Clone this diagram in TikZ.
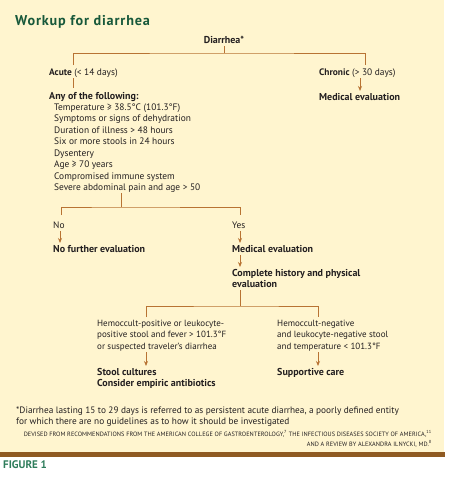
\documentclass[tikz,border=0pt]{standalone}
\usepackage{fontspec}
\setmainfont{PT Sans}
\newfontfamily\titlefont[LetterSpace=6]{PT Sans}
\newfontfamily\srcfont[LetterSpace=1]{PT Sans}
\usetikzlibrary{arrows.meta}
\definecolor{cream}{HTML}{FFF5CF}
\definecolor{titlegreen}{HTML}{17583A}
\definecolor{figgreen}{HTML}{2E7D5B}
\definecolor{linebrown}{HTML}{B87333}
\definecolor{barbrown}{HTML}{8F5A22}
\definecolor{ink}{HTML}{231F20}
\tikzset{
  txt/.style={anchor=base west, inner sep=0pt, text=ink, font=\fontsize{9.4}{11.5}\selectfont, align=left},
  btxt/.style={txt, font=\fontsize{10}{11.5}\selectfont\bfseries},
  conn/.style={draw=linebrown, line width=0.9pt},
  arr/.style={conn, -{Stealth[length=5pt,width=4pt]}},
}
\begin{document}
\begin{tikzpicture}[x=1pt,y=-1pt]
\useasboundingbox (0,0) rectangle (450,477);
\fill[white] (0,0) rectangle (450,477);
\fill[cream] (0,0) rectangle (444,452);
\fill[barbrown] (0,452) rectangle (445,456.5);

% multi-line nodes are placed by the baseline of their last line
\node[anchor=base west, inner sep=0pt, text=titlegreen, font=\fontsize{14.2}{15}\titlefont\bfseries] (title) at (15,25) {Workup for diarrhea};

\node[txt, anchor=base, font=\fontsize{10}{11.5}\selectfont\bfseries] (diar) at (224,43) {Diarrhea*};
\node[txt] (acute) at (49,75) {\textbf{Acute} (< 14 days)};
\node[txt] (chronic) at (319,75) {\textbf{Chronic} (> 30 days)};
\node[btxt] (chmed) at (319,100) {Medical evaluation};
\node[btxt] (anyof) at (49,99) {Any of the following:};
\node[txt] (list) at (54,190.5) {Temperature ≥ 38.5°C (101.3°F)\\Symptoms or signs of dehydration\\Duration of illness > 48 hours\\Six or more stools in 24 hours\\Dysentery\\Age ≥ 70 years\\Compromised immune system\\Severe abdominal pain and age > 50};

\node[txt] (no) at (53,228) {No};
\node[txt] (yes) at (232,228) {Yes};
\node[btxt] (nofurther) at (53,252) {No further evaluation};
\node[btxt] (medeval) at (232,252) {Medical evaluation};
\node[btxt] (complete) at (232,287.5) {Complete history and physical\\evaluation};

\node[txt, font=\fontsize{9}{11.5}\selectfont] (pos) at (97,349) {Hemoccult-positive or leukocyte-\\positive stool and fever > 101.3°F\\or suspected traveler’s diarrhea};
\node[txt, font=\fontsize{9}{11.5}\selectfont] (neg) at (277,349) {Hemoccult-negative\\and leukocyte-negative stool\\and temperature < 101.3°F};
\node[btxt] (stool) at (97,386.5) {Stool cultures\\Consider empiric antibiotics};
\node[btxt] (supp) at (277,375) {Supportive care};

\node[txt, font=\fontsize{9.3}{11.5}\selectfont] (foot) at (16,424.5) {*Diarrhea lasting 15 to 29 days is referred to as persistent acute diarrhea, a poorly defined entity\\for which there are no guidelines as to how it should be investigated};
\node[anchor=base east, inner sep=0pt, text=ink, align=right, font=\fontsize{6.25}{10.5}\srcfont] (src) at (432,446.5) {DEVISED FROM RECOMMENDATIONS FROM THE AMERICAN COLLEGE OF GASTROENTEROLOGY,\textsuperscript{7} THE INFECTIOUS DISEASES SOCIETY OF AMERICA,\textsuperscript{11}\\AND A REVIEW BY ALEXANDRA ILNYCKI, MD.\textsuperscript{8}};

\node[anchor=base west, inner sep=0pt, text=figgreen, font=\fontsize{11}{12}\selectfont\bfseries] (fig) at (3,468) {FIGURE 1};

% connectors
\coordinate (d0) at (224,46);
\coordinate (d1) at (224,53);
\coordinate (dl) at (73,65);
\coordinate (dr) at (365,65);
\draw[conn] (d0) -- (d1);
\draw[conn] (dl) |- (d1) -| (dr);

\coordinate (a0) at (73,78);
\coordinate (a1) at (73,88);
\draw[conn] (a0) -- (a1);
\coordinate (c0) at (360,78);
\coordinate (c1) at (360,91);
\draw[arr] (c0) -- (c1);

\coordinate (l0) at (121,193);
\coordinate (l1) at (121,207);
\coordinate (ll) at (61,215);
\coordinate (lr) at (240,215);
\draw[conn] (l0) -- (l1);
\draw[conn] (ll) |- (l1) -| (lr);

\coordinate (n0) at (60,231);
\coordinate (n1) at (60,243);
\draw[arr] (n0) -- (n1);
\coordinate (y0) at (240,231);
\coordinate (y1) at (240,243);
\draw[arr] (y0) -- (y1);
\coordinate (m0) at (240,255);
\coordinate (m1) at (240,267);
\draw[arr] (m0) -- (m1);

\coordinate (h0) at (240,290);
\coordinate (h1) at (240,306);
\coordinate (hl) at (146,317);
\coordinate (hr) at (318,317);
\draw[conn] (h0) -- (h1);
\draw[conn] (hl) |- (h1) -| (hr);

\coordinate (p0) at (146,352);
\coordinate (p1) at (146,366);
\draw[arr] (p0) -- (p1);
\coordinate (q0) at (318,352);
\coordinate (q1) at (318,366);
\draw[arr] (q0) -- (q1);
\end{tikzpicture}
\end{document}
